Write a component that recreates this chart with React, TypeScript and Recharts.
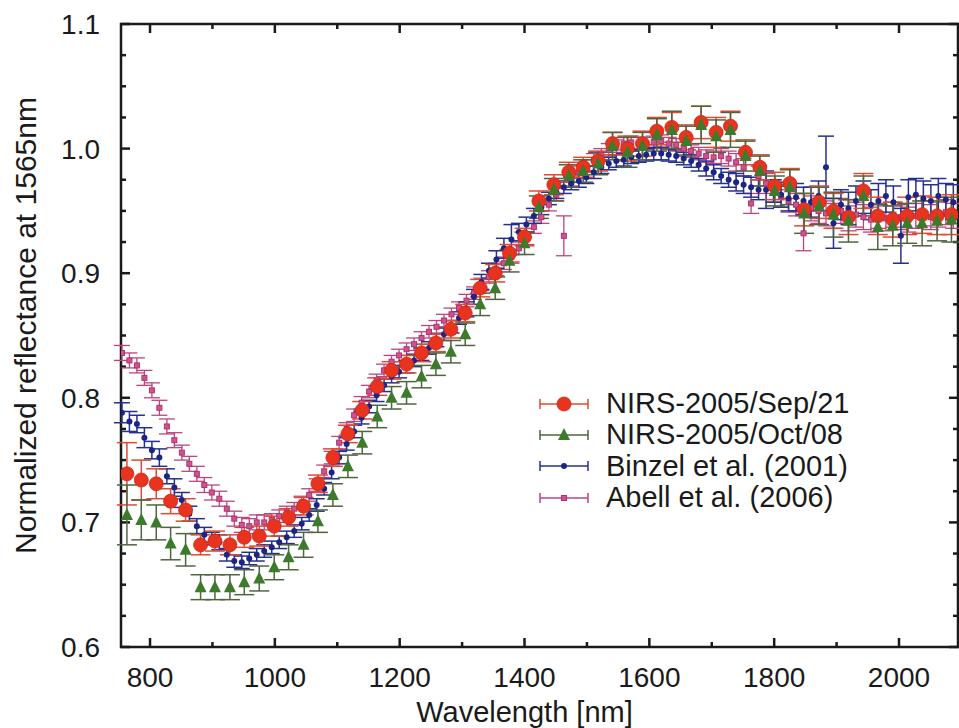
import {
  ComposedChart,
  ErrorBar,
  Legend,
  ReferenceArea,
  Scatter,
  XAxis,
  YAxis,
} from "recharts";

// ---- data ----
const sepWl = [
  763, 786, 810, 833, 857, 881, 904, 928, 951, 975,
  999, 1022, 1046, 1069, 1093, 1117, 1140, 1164, 1187, 1211,
  1235, 1258, 1282, 1305, 1329, 1353, 1376, 1400, 1423, 1447,
  1471, 1494, 1518, 1541, 1565, 1589, 1612, 1636, 1659, 1683,
  1707, 1730, 1754, 1777, 1801, 1825, 1848, 1872, 1895, 1919,
  1943, 1966, 1990, 2013, 2037, 2061, 2084,
];
const sepVal = [
  0.739, 0.734, 0.731, 0.717, 0.71, 0.682, 0.685, 0.682, 0.688, 0.689,
  0.697, 0.704, 0.713, 0.731, 0.752, 0.771, 0.79, 0.809, 0.822, 0.827,
  0.836, 0.844, 0.855, 0.868, 0.888, 0.9, 0.916, 0.929, 0.958, 0.971,
  0.981, 0.985, 0.99, 1.004, 1.0, 1.004, 1.014, 1.017, 1.009, 1.021,
  1.013, 1.018, 0.997, 0.985, 0.97, 0.972, 0.951, 0.957, 0.95, 0.945,
  0.966, 0.946, 0.943, 0.946, 0.947, 0.946, 0.947,
];
const sepErr = [
  0.025, 0.016, 0.012, 0.01, 0.009, 0.008, 0.008, 0.008, 0.008, 0.008,
  0.008, 0.007, 0.007, 0.007, 0.007, 0.007, 0.007, 0.007, 0.007, 0.007,
  0.007, 0.007, 0.007, 0.007, 0.007, 0.007, 0.007, 0.007, 0.008, 0.008,
  0.008, 0.008, 0.008, 0.009, 0.01, 0.01, 0.011, 0.012, 0.01, 0.013,
  0.012, 0.012, 0.01, 0.01, 0.011, 0.012, 0.013, 0.013, 0.014, 0.014,
  0.014, 0.015, 0.014, 0.015, 0.015, 0.015, 0.016,
];
const octVal = [
  0.706, 0.702, 0.7, 0.683, 0.678, 0.648, 0.648, 0.648, 0.652, 0.655,
  0.664, 0.672, 0.682, 0.701, 0.722, 0.745, 0.764, 0.785, 0.8, 0.804,
  0.817, 0.827, 0.837, 0.851, 0.875, 0.888, 0.91, 0.924, 0.953, 0.967,
  0.978, 0.982, 0.988, 1.002, 0.997, 1.002, 1.011, 1.015, 1.006, 1.019,
  1.01, 1.015, 0.994, 0.982, 0.966, 0.969, 0.948, 0.954, 0.947, 0.942,
  0.962, 0.937, 0.938, 0.94, 0.94, 0.942, 0.943,
];
const octErr = [
  0.024, 0.016, 0.014, 0.013, 0.013, 0.01, 0.01, 0.01, 0.01, 0.01,
  0.01, 0.01, 0.01, 0.009, 0.009, 0.009, 0.009, 0.009, 0.009, 0.009,
  0.009, 0.009, 0.009, 0.009, 0.009, 0.009, 0.009, 0.009, 0.009, 0.009,
  0.009, 0.009, 0.009, 0.011, 0.012, 0.011, 0.013, 0.015, 0.012, 0.015,
  0.013, 0.014, 0.012, 0.012, 0.012, 0.014, 0.016, 0.015, 0.018, 0.017,
  0.016, 0.018, 0.016, 0.016, 0.018, 0.016, 0.018,
];

// Binzel and Abell spectra share the same wavelength grid
const denseWl = [
  755, 767, 779, 791, 803, 815, 827, 839, 851, 863,
  875, 887, 899, 911, 923, 935, 947, 959, 971, 983,
  995, 1007, 1019, 1031, 1043, 1055, 1067, 1079, 1091, 1103,
  1115, 1127, 1139, 1151, 1163, 1175, 1187, 1199, 1211, 1223,
  1235, 1247, 1259, 1271, 1283, 1295, 1307, 1319, 1331, 1343,
  1355, 1367, 1379, 1391, 1403, 1415, 1427, 1439, 1451, 1463,
  1475, 1487, 1499, 1511, 1523, 1535, 1547, 1559, 1571, 1583,
  1595, 1607, 1619, 1631, 1643, 1655, 1667, 1679, 1691, 1703,
  1715, 1727, 1739, 1751, 1763, 1775, 1787, 1799, 1811, 1823,
  1835, 1847, 1859, 1871, 1883, 1895, 1907, 1919, 1931, 1943,
  1955, 1967, 1979, 1991, 2003, 2015, 2027, 2039, 2051, 2063,
  2075, 2087,
];
const binzelVal = [
  0.788, 0.781, 0.779, 0.768, 0.758, 0.752, 0.737, 0.728, 0.718, 0.707,
  0.697, 0.69, 0.687, 0.684, 0.674, 0.669, 0.668, 0.671, 0.674, 0.677,
  0.68, 0.684, 0.688, 0.693, 0.699, 0.706, 0.714, 0.727, 0.74, 0.752,
  0.763, 0.773, 0.784, 0.793, 0.802, 0.81, 0.817, 0.821, 0.825, 0.83,
  0.835, 0.84, 0.846, 0.851, 0.857, 0.864, 0.871, 0.881, 0.893, 0.902,
  0.911, 0.92, 0.927, 0.933, 0.939, 0.946, 0.953, 0.96, 0.965, 0.969,
  0.972, 0.974, 0.977, 0.981, 0.985, 0.988, 0.99, 0.991, 0.993, 0.994,
  0.995, 0.996, 0.996, 0.995, 0.994, 0.992, 0.99, 0.987, 0.984, 0.981,
  0.978, 0.975, 0.973, 0.971, 0.969, 0.967, 0.967, 0.966, 0.963, 0.96,
  0.961, 0.958, 0.957, 0.962, 0.985, 0.94, 0.955, 0.952, 0.958, 0.961,
  0.955, 0.958, 0.962, 0.957, 0.93, 0.961, 0.963, 0.96, 0.958, 0.962,
  0.959, 0.957,
];
const binzelErr = [
  0.008, 0.008, 0.007, 0.008, 0.007, 0.007, 0.006, 0.007, 0.006, 0.006,
  0.006, 0.006, 0.005, 0.006, 0.005, 0.005, 0.005, 0.005, 0.005, 0.005,
  0.005, 0.005, 0.005, 0.005, 0.005, 0.005, 0.005, 0.005, 0.005, 0.005,
  0.005, 0.005, 0.005, 0.005, 0.005, 0.005, 0.005, 0.005, 0.005, 0.005,
  0.005, 0.005, 0.005, 0.005, 0.005, 0.005, 0.006, 0.006, 0.006, 0.006,
  0.007, 0.008, 0.012, 0.007, 0.006, 0.006, 0.006, 0.005, 0.005, 0.005,
  0.005, 0.005, 0.005, 0.005, 0.005, 0.005, 0.005, 0.005, 0.005, 0.005,
  0.005, 0.005, 0.005, 0.005, 0.005, 0.005, 0.005, 0.005, 0.006, 0.006,
  0.006, 0.006, 0.007, 0.007, 0.008, 0.008, 0.015, 0.009, 0.01, 0.01,
  0.011, 0.011, 0.012, 0.012, 0.025, 0.02, 0.012, 0.013, 0.012, 0.013,
  0.012, 0.014, 0.013, 0.013, 0.022, 0.014, 0.013, 0.014, 0.013, 0.014,
  0.013, 0.014,
];
const abellVal = [
  0.836, 0.83, 0.826, 0.816, 0.806, 0.792, 0.777, 0.766, 0.756, 0.747,
  0.739, 0.73, 0.724, 0.719, 0.711, 0.703, 0.698, 0.697, 0.7, 0.7,
  0.702, 0.705, 0.708, 0.711, 0.716, 0.722, 0.73, 0.741, 0.752, 0.764,
  0.775, 0.786, 0.796, 0.805, 0.814, 0.822, 0.829, 0.834, 0.839, 0.843,
  0.848, 0.853, 0.857, 0.862, 0.867, 0.872, 0.878, 0.884, 0.891, 0.897,
  0.903, 0.908, 0.913, 0.92, 0.928, 0.937, 0.945, 0.955, 0.963, 0.93,
  0.975, 0.981, 0.986, 0.991, 0.995, 0.999, 1.002, 1.004, 1.005, 1.004,
  1.004, 1.005, 1.006, 1.004, 1.003, 1.0, 0.998, 0.996, 0.994, 0.993,
  0.994, 0.992, 0.989, 0.985, 0.956, 0.978, 0.972, 0.966, 0.962, 0.958,
  0.955, 0.932, 0.952, 0.95, 0.948, 0.946, 0.95, 0.944, 0.947, 0.945,
  0.943, 0.946, 0.944, 0.947, 0.945, 0.943, 0.946, 0.948, 0.945, 0.947,
  0.949, 0.946,
];
const abellErr = [
  0.006, 0.006, 0.006, 0.006, 0.006, 0.006, 0.006, 0.006, 0.006, 0.006,
  0.006, 0.006, 0.006, 0.006, 0.006, 0.006, 0.006, 0.006, 0.006, 0.006,
  0.005, 0.005, 0.005, 0.005, 0.005, 0.005, 0.005, 0.005, 0.005, 0.005,
  0.005, 0.005, 0.005, 0.005, 0.005, 0.005, 0.005, 0.005, 0.005, 0.005,
  0.005, 0.005, 0.005, 0.005, 0.005, 0.005, 0.005, 0.005, 0.005, 0.005,
  0.005, 0.005, 0.005, 0.005, 0.005, 0.005, 0.005, 0.005, 0.005, 0.016,
  0.005, 0.005, 0.005, 0.005, 0.005, 0.005, 0.005, 0.005, 0.005, 0.005,
  0.005, 0.005, 0.005, 0.005, 0.005, 0.005, 0.005, 0.005, 0.005, 0.005,
  0.006, 0.006, 0.007, 0.007, 0.008, 0.008, 0.008, 0.009, 0.009, 0.009,
  0.009, 0.014, 0.01, 0.01, 0.01, 0.01, 0.01, 0.01, 0.01, 0.01,
  0.01, 0.01, 0.01, 0.01, 0.01, 0.01, 0.01, 0.01, 0.01, 0.01,
  0.01, 0.01,
];

const xMajor = [800, 1000, 1200, 1400, 1600, 1800, 2000];
const xMinor = [900, 1100, 1300, 1500, 1700, 1900];
const yMajor = [0.6, 0.7, 0.8, 0.9, 1.0, 1.1];
const yMinor = [
  0.625, 0.65, 0.675, 0.725, 0.75, 0.775, 0.825, 0.85, 0.875, 0.925, 0.95,
  0.975, 1.025, 1.05, 1.075,
];

const seriesNames = [
  "NIRS-2005/Sep/21",
  "NIRS-2005/Oct/08",
  "Binzel et al. (2001)",
  "Abell et al. (2006)",
];

// ---- styling ----
const FONT = "'Liberation Sans', Arial, sans-serif";
const INK = "#1a1a1a";
const RED = "#e8331f";
const RED_BAR = "#e04a30";
const GREEN = "#3d7a2c";
const GREEN_BAR = "#4f6540";
const BLUE = "#1c2585";
const BLUE_BAR = "#26318f";
const PINK = "#b3306e";
const PINK_BAR = "#bb457f";

const W = 959;
const H = 728;
const MARGIN = { top: 24, right: 1, bottom: 0, left: 0 };
const X_AXIS_H = 81;
const Y_AXIS_W = 121;
const X_GAP = 20; // frame -> top of x tick labels
const Y_GAP = 21; // frame -> right end of y tick labels
const X_DOMAIN: [number, number] = [753.5, 2094.5];
const Y_DOMAIN: [number, number] = [0.6, 1.1];
const MAJOR = 9;
const MINOR = 5;
const LINE_W = 2.5;

const toRows = (wl: number[], v: number[], e: number[]) =>
  wl.map((w, i) => ({ wl: w, v: v[i], e: e[i] }));

const sepData = toRows(sepWl, sepVal, sepErr);
const octData = toRows(sepWl, octVal, octErr);
const binzelData = toRows(denseWl, binzelVal, binzelErr);
const abellData = toRows(denseWl, abellVal, abellErr);

// the frame rectangle comes from the axis scales; inward ticks are laid along it
function FrameShape(p: any) {
  const x = Number(p.x);
  const y = Number(p.y);
  const w = Number(p.width);
  const h = Number(p.height);
  if (![x, y, w, h].every(Number.isFinite)) return <g />;
  const px = (v: number) => x + ((v - X_DOMAIN[0]) / (X_DOMAIN[1] - X_DOMAIN[0])) * w;
  const py = (v: number) => y + h - ((v - Y_DOMAIN[0]) / (Y_DOMAIN[1] - Y_DOMAIN[0])) * h;
  const marks: JSX.Element[] = [];
  const add = (k: string, x1: number, y1: number, x2: number, y2: number) =>
    marks.push(<line key={k} x1={x1} y1={y1} x2={x2} y2={y2} stroke={INK} strokeWidth={LINE_W} />);
  [...xMajor.map((t) => [t, MAJOR]), ...xMinor.map((t) => [t, MINOR])].forEach(([t, len]) => {
    add(`b${t}`, px(t), y + h, px(t), y + h - len);
    add(`t${t}`, px(t), y, px(t), y + len);
  });
  [...yMajor.map((t) => [t, MAJOR]), ...yMinor.map((t) => [t, MINOR])].forEach(([t, len]) => {
    add(`l${t}`, x, py(t), x + len, py(t));
    add(`r${t}`, x + w, py(t), x + w - len, py(t));
  });
  return (
    <g>
      <rect x={x} y={y} width={w} height={h} fill="none" stroke={INK} strokeWidth={LINE_W} />
      {marks}
    </g>
  );
}

type Pt = { cx?: number; cy?: number };

const redMark = (cx: number, cy: number) => (
  <circle cx={cx} cy={cy} r={7} fill={RED} stroke="#c72a17" strokeWidth={0.8} />
);
const greenMark = (cx: number, cy: number) => (
  <polygon
    points={`${cx},${cy - 7} ${cx - 6},${cy + 5} ${cx + 6},${cy + 5}`}
    fill={GREEN}
  />
);
const blueMark = (cx: number, cy: number) => (
  <circle cx={cx} cy={cy} r={3} fill={BLUE} />
);
const pinkMark = (cx: number, cy: number) => (
  <rect x={cx - 2.5} y={cy - 2.5} width={5} height={5} fill="#cc5590" stroke={PINK} strokeWidth={1} />
);

const shapeOf = (mark: (cx: number, cy: number) => JSX.Element) => (p: Pt) =>
  p.cx == null || p.cy == null ? <g /> : mark(p.cx, p.cy);

const legendRows = [
  { name: seriesNames[0], bar: RED_BAR, mark: redMark },
  { name: seriesNames[1], bar: GREEN_BAR, mark: greenMark },
  { name: seriesNames[2], bar: BLUE_BAR, mark: blueMark },
  { name: seriesNames[3], bar: PINK_BAR, mark: pinkMark },
];

function LegendBox() {
  return (
    <div style={{ fontFamily: FONT, fontSize: 29, color: INK }}>
      {legendRows.map((row) => (
        <div key={row.name} style={{ display: "flex", alignItems: "center", height: 31.3 }}>
          <svg width={52} height={20}>
            <line x1={2} y1={10} x2={50} y2={10} stroke={row.bar} strokeWidth={1.5} />
            <line x1={2} y1={5} x2={2} y2={15} stroke={row.bar} strokeWidth={1.5} />
            <line x1={50} y1={5} x2={50} y2={15} stroke={row.bar} strokeWidth={1.5} />
            {row.mark(26, 10)}
          </svg>
          <span style={{ marginLeft: 16, lineHeight: 1, whiteSpace: "nowrap" }}>{row.name}</span>
        </div>
      ))}
    </div>
  );
}

const tickText = { fontSize: 28, fill: INK, fontFamily: FONT };

export default function App() {
  return (
    <div style={{ position: "absolute", left: 0, top: 0, width: W, height: H, background: "#fff" }}>
      <ComposedChart width={W} height={H} margin={MARGIN}>
        <XAxis xAxisId="x" type="number" dataKey="wl" domain={X_DOMAIN} allowDataOverflow
          ticks={xMajor} interval={0} tick={tickText} tickSize={0} tickMargin={X_GAP}
          tickLine={false} axisLine={false} height={X_AXIS_H}
          label={{
            content: ({ viewBox }: any) => (
              <text x={viewBox.x + viewBox.width / 2 - 15} y={722} textAnchor="middle"
                fontSize={29} fontFamily={FONT} fill={INK}>
                Wavelength [nm]
              </text>
            ),
          }} />
        <YAxis yAxisId="y" type="number" domain={Y_DOMAIN} allowDataOverflow
          ticks={yMajor} interval={0} tick={tickText} tickSize={0} tickMargin={Y_GAP}
          tickLine={false} axisLine={false} width={Y_AXIS_W}
          tickFormatter={(v: number) => v.toFixed(1)}
          label={{
            content: ({ viewBox }: any) => {
              const cy = viewBox.y + viewBox.height / 2 - 10;
              return (
                <text x={25} y={cy} textAnchor="middle" dominantBaseline="central"
                  fontSize={30} fontFamily={FONT} fill={INK} transform={`rotate(-90, 25, ${cy})`}>
                  Normalized reflectance at 1565nm
                </text>
              );
            },
          }} />

        <Scatter name={seriesNames[3]} data={abellData} dataKey="v" xAxisId="x" yAxisId="y"
          shape={shapeOf(pinkMark)} isAnimationActive={false}>
          <ErrorBar dataKey="e" direction="y" width={8} stroke={PINK_BAR} strokeWidth={1.3} />
        </Scatter>
        <Scatter name={seriesNames[2]} data={binzelData} dataKey="v" xAxisId="x" yAxisId="y"
          shape={shapeOf(blueMark)} isAnimationActive={false}>
          <ErrorBar dataKey="e" direction="y" width={8} stroke={BLUE_BAR} strokeWidth={1.5} />
        </Scatter>
        <Scatter name={seriesNames[0]} data={sepData} dataKey="v" xAxisId="x" yAxisId="y"
          shape={shapeOf(redMark)} isAnimationActive={false}>
          <ErrorBar dataKey="e" direction="y" width={10} stroke={RED_BAR} strokeWidth={1.5} />
        </Scatter>
        <Scatter name={seriesNames[1]} data={octData} dataKey="v" xAxisId="x" yAxisId="y"
          shape={shapeOf(greenMark)} isAnimationActive={false}>
          <ErrorBar dataKey="e" direction="y" width={10} stroke={GREEN_BAR} strokeWidth={1.5} />
        </Scatter>

        <ReferenceArea xAxisId="x" yAxisId="y" x1={X_DOMAIN[0]} x2={X_DOMAIN[1]}
          y1={Y_DOMAIN[0]} y2={Y_DOMAIN[1]} ifOverflow="visible" shape={FrameShape} />

        <Legend layout="vertical" align="center" verticalAlign="middle"
          wrapperStyle={{ left: 538, top: 388, width: 360, height: 126 }}
          content={() => <LegendBox />} />
      </ComposedChart>
    </div>
  );
}
